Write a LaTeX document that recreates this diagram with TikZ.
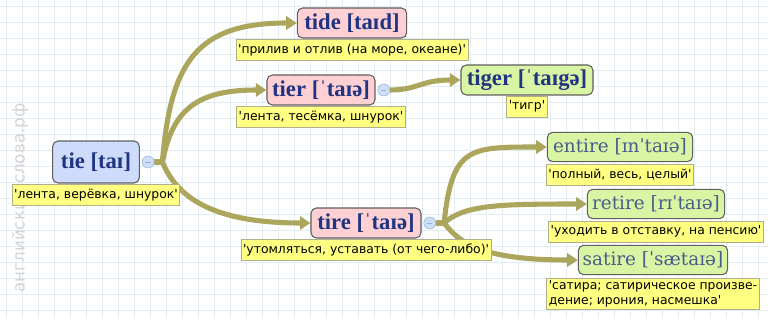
\documentclass[tikz,border=0pt]{standalone}
\usepackage{fontspec}
\setmainfont{DejaVu Sans}
\newfontfamily\headfont{Liberation Serif}
\newfontfamily\lightfont{DejaVu Serif}
\newfontfamily\glossfont{DejaVu Sans}
\usepackage{xcolor}
\usepackage{tikz}
\usetikzlibrary{arrows.meta,positioning,calc,backgrounds}

\definecolor{linkcol}{RGB}{171,166,92}
\definecolor{rootfill}{RGB}{206,219,250}
\definecolor{pinkfill}{RGB}{253,208,211}
\definecolor{greenfill}{RGB}{217,244,163}
\definecolor{glossfill}{RGB}{255,255,130}
\definecolor{boxline}{RGB}{95,95,95}
\definecolor{glossline}{RGB}{175,175,140}
\definecolor{wordblue}{RGB}{32,52,130}
\definecolor{wordslate}{RGB}{72,92,140}
\definecolor{gridcol}{RGB}{226,236,244}
\definecolor{btnfill}{RGB}{205,222,248}
\definecolor{btnline}{RGB}{150,178,220}

\begin{document}
\begin{tikzpicture}[x=0.75pt,y=-0.75pt,>={Triangle[length=8pt,width=10pt]},
  word/.style={draw=boxline,line width=0.8pt,rounded corners=4pt,inner sep=1pt,
    text=wordblue,font=\headfont\bfseries\fontsize{17}{19}\selectfont},
  rootword/.style={word,fill=rootfill,minimum height=31.5pt},
  pinkword/.style={word,fill=pinkfill,minimum height=22.5pt},
  greenword/.style={word,fill=greenfill,minimum height=22pt},
  lightword/.style={greenword,text=wordslate,font=\lightfont\fontsize{13.8}{16}\selectfont},
  gloss/.style={draw=glossline,fill=glossfill,line width=0.6pt,inner xsep=1.5pt,inner ysep=1.5pt,
    minimum height=16pt,align=left,font=\glossfont\fontsize{9.3}{11.5}\selectfont},
  btn/.style={circle,draw=btnline,fill=btnfill,inner sep=0pt,minimum size=9pt,
    path picture={\draw[btnline,line width=0.7pt]
      ([xshift=-2pt]path picture bounding box.center) -- ([xshift=2pt]path picture bounding box.center);}},
  link/.style={draw=linkcol,line width=3.8pt,->},
  gridline/.style={draw=gridcol,line width=0.6pt},
  watermark/.style={text=black!17,font=\glossfont\fontsize{12.5}{14}\selectfont}
]
\useasboundingbox (0,0) rectangle (768,324);

\node[watermark,rotate=90] (wmark) at (20,198) {английские-слова.рф};

% words
\node[rootword,minimum width=65pt] (tie) at (96,162) {tie [taɪ]};
\node[gloss,below=0pt of tie] (tiegloss) {'лента, верёвка, шнурок'};
\node[btn,right=1.5pt of tie] (tiebtn) {};

\node[pinkword,minimum width=82pt] (tide) at (352,23) {tide [taɪd]};
\node[gloss,below=0pt of tide] (tidegloss) {'прилив и отлив (на море, океане)'};

\node[pinkword,minimum width=81pt] (tier) at (321,90) {tier [ˈtaɪə]};
\node[gloss,below=0pt of tier] (tiergloss) {'лента, тесёмка, шнурок'};
\node[btn,right=1.5pt of tier] (tierbtn) {};

\node[greenword,minimum width=99pt,minimum height=22.5pt] (tiger) at (527,80) {tiger [ˈtaɪgə]};
\node[gloss,below=0pt of tiger] (tigergloss) {'тигр'};

\node[pinkword,minimum width=82.5pt] (tire) at (366,223) {tire [ˈtaɪə]};
\node[gloss,below=0pt of tire] (tiregloss) {'утомляться, уставать (от чего-либо)'};
\node[btn,right=1.5pt of tire] (tirebtn) {};

\node[lightword,minimum width=109pt] (entire) at (620,147) {entire [ɪnˈtaɪə]};
\node[gloss,below=1pt of entire] (entiregloss) {'полный, весь, целый'};

\node[lightword,minimum width=103pt] (retire) at (656,204) {retire [rɪˈtaɪə]};
\node[gloss,below=1pt of retire] (retiregloss) {'уходить в отставку, на пенсию'};

\node[lightword,minimum width=112pt] (satire) at (653,260) {satire [ˈsætaɪə]};
\node[gloss,below=2pt of satire] (satiregloss) {'сатира; сатирическое произве-\\дение; ирония, насмешка'};

\coordinate (tiefork) at ([xshift=6pt]tiebtn.east);
\coordinate (tirefork) at ([xshift=6pt]tirebtn.east);

\begin{scope}[on background layer]
  \fill[white] (0,0) rectangle (768,324);
  \foreach \gx in {6,22,...,766} \draw[gridline] (\gx,0) -- (\gx,318);
  \foreach \gy in {6,22,...,318} \draw[gridline] (0,\gy) -- (768,\gy);

  \draw[link] (tiebtn.east) -- (tiefork)
    .. controls ($(tiefork)+(8,-100)$) and ($(tide.west)+(-100,0)$) .. (tide.west);
  \draw[link] (tiebtn.east) -- (tiefork)
    .. controls ($(tiefork)+(10,-52)$) and ($(tier.west)+(-70,0)$) .. (tier.west);
  \draw[link] (tiebtn.east) -- (tiefork)
    .. controls ($(tiefork)+(14,34)$) and ($(tire.west)+(-100,0)$) .. (tire.west);

  \draw[link] (tierbtn.east) .. controls ($(tierbtn.east)+(28,0)$) and ($(tiger.west)+(-40,0)$) .. (tiger.west);

  \draw[link] (tirebtn.east) -- (tirefork)
    .. controls ($(tirefork)+(8,-76)$) and ($(entire.west)+(-78,0)$) .. (entire.west);
  \draw[link] (tirebtn.east) -- (tirefork)
    .. controls ($(tirefork)+(20,-18)$) and ($(retire.west)+(-88,0)$) .. (retire.west);
  \draw[link] (tirebtn.east) -- (tirefork)
    .. controls ($(tirefork)+(15,19)$) and ($(satire.west)+(-98,0)$) .. (satire.west);
\end{scope}
\end{tikzpicture}
\end{document}
